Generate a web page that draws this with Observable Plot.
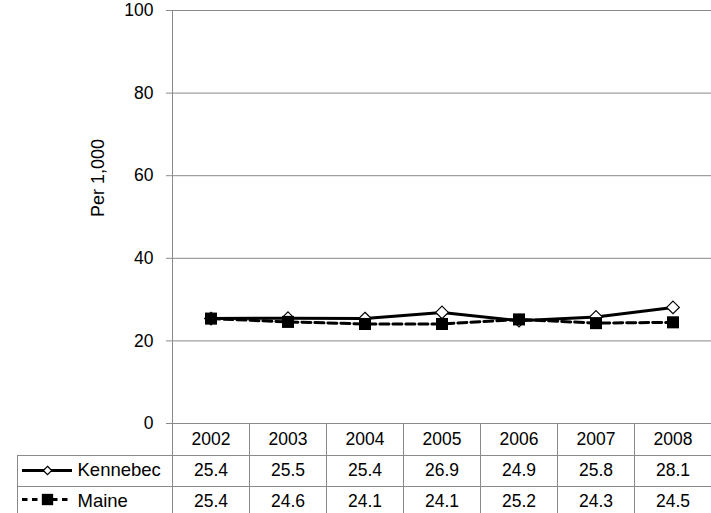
<!DOCTYPE html>
<html><head><meta charset="utf-8">
<script src="https://cdn.jsdelivr.net/npm/d3@7"></script>
<script src="https://cdn.jsdelivr.net/npm/@observablehq/plot@0.6"></script>
<style>body{margin:0;background:#fff}</style>
</head><body><div id="chart"></div>
<script>
const years = [2002, 2003, 2004, 2005, 2006, 2007, 2008];
const kennebec = [25.4, 25.5, 25.4, 26.9, 24.9, 25.8, 28.1];
const maine = [25.4, 24.6, 24.1, 24.1, 25.2, 24.3, 24.5];
const yTicks = [0, 20, 40, 60, 80, 100];
const seriesNames = ["Kennebec", "Maine"];
const yLabel = "Per 1,000";

const kData = years.map((year, i) => ({year, value: kennebec[i]}));
const mData = years.map((year, i) => ({year, value: maine[i]}));

const W = 711, H = 513, mL = 172, mT = 10, mB = 90;
const grid = "#8a8a8a";
const rowDy = [16, 47, 78];
const colEdges = years.slice(1).map(y => y - 0.5);
const x0 = years[0] - 0.5;

const chart = Plot.plot({
  width: W, height: H,
  marginLeft: mL, marginRight: 0, marginTop: mT, marginBottom: mB,
  style: {fontFamily: "'Liberation Sans', Arial, sans-serif", fontSize: "17px", color: "#000", background: "#fff"},
  x: {domain: [x0, years[years.length - 1] + 0.5], axis: null},
  y: {domain: [0, 100], axis: null},
  marks: [
    // gridlines + tick marks
    Plot.ruleY(yTicks, {stroke: grid, strokeWidth: 1, insetLeft: -6}),
    // table horizontal lines
    Plot.ruleY([0], {stroke: grid, dy: 32, insetLeft: -155}),
    Plot.ruleY([0], {stroke: grid, dy: 63, insetLeft: -155}),
    // left axis line extended into table
    Plot.ruleX([x0], {stroke: grid, insetBottom: -95}),
    // column boundaries
    Plot.ruleX(colEdges, {stroke: grid, insetTop: H - mB - mT, insetBottom: -95}),
    // left border of row-label column
    Plot.ruleX([x0], {stroke: grid, dx: -155, insetTop: H - mB - mT + 32, insetBottom: -95}),
    // y tick labels
    Plot.text(yTicks, {y: d => d, frameAnchor: "left", dx: -19, textAnchor: "end", text: d => String(d), fontSize: 17.5}),
    // y label
    Plot.text([yLabel], {frameAnchor: "left", dx: -74, rotate: -90, text: d => d, fontSize: 18}),
    // series
    Plot.line(kData, {x: "year", y: "value", stroke: "#000", strokeWidth: 3}),
    Plot.dot(kData, {x: "year", y: "value", symbol: "diamond2", r: 5.7, fill: "#fff", stroke: "#000", strokeWidth: 1.2}),
    Plot.line(mData, {x: "year", y: "value", stroke: "#000", strokeWidth: 3, strokeDasharray: "9,4"}),
    Plot.dot(mData, {x: "year", y: "value", symbol: "square", r: 6.8, fill: "#000", stroke: "none"}),
    // table header years
    Plot.text(years, {x: d => d, y: 0, dy: rowDy[0], text: d => String(d), fontSize: 17.5}),
    // table values
    Plot.text(kData, {x: "year", y: 0, dy: rowDy[1], text: d => d.value.toFixed(1), fontSize: 17.5}),
    Plot.text(mData, {x: "year", y: 0, dy: rowDy[2], text: d => d.value.toFixed(1), fontSize: 17.5}),
    // row legends
    Plot.ruleY([0], {dy: rowDy[1], insetLeft: -150, insetRight: W - 72, stroke: "#000", strokeWidth: 3}),
    Plot.dot([0], {x: x0, y: 0, dx: -125, dy: rowDy[1], symbol: "diamond2", r: 3.8, fill: "#fff", stroke: "#000", strokeWidth: 1.2}),
    Plot.ruleY([0], {dy: rowDy[2] - 2, insetLeft: -150, insetRight: W - 72, stroke: "#000", strokeWidth: 3, strokeDasharray: "5.5,4.5"}),
    Plot.dot([0], {x: x0, y: 0, dx: -125, dy: rowDy[2] - 2, symbol: "square", r: 6.4, fill: "#000", stroke: "none"}),
    Plot.text([seriesNames[0]], {x: x0, y: 0, dx: -95, dy: rowDy[1], textAnchor: "start", text: d => d, fontSize: 18.5}),
    Plot.text([seriesNames[1]], {x: x0, y: 0, dx: -95, dy: rowDy[2], textAnchor: "start", text: d => d, fontSize: 18.5})
  ]
});
document.getElementById("chart").appendChild(chart);
</script>
</body></html>
